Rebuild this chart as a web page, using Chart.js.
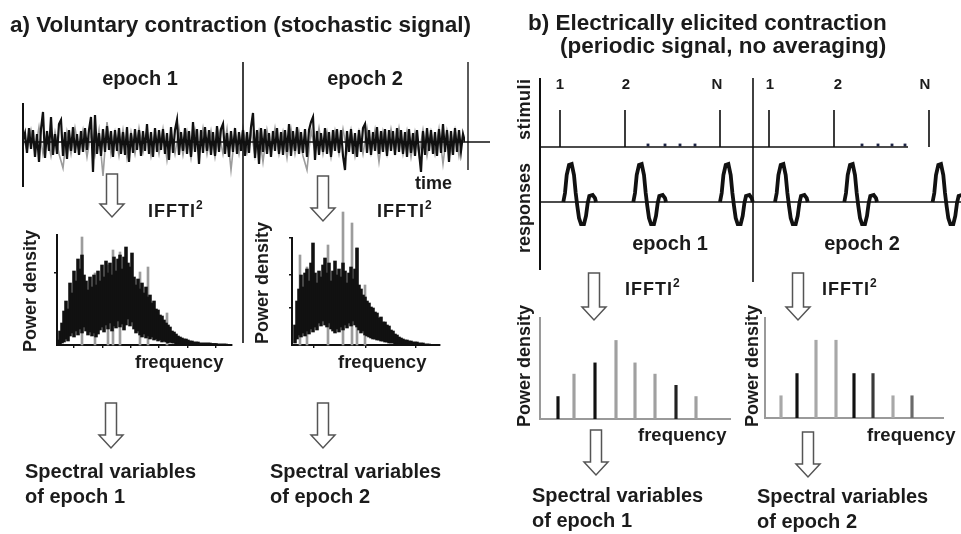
<!DOCTYPE html>
<html>
<head>
<meta charset="utf-8">
<title>Spectral analysis of voluntary and electrically elicited contractions</title>
<script src="https://cdn.jsdelivr.net/npm/chart.js@4.4.1/dist/chart.umd.min.js"></script>
<style>
  html, body { margin: 0; padding: 0; background: #fff; }
  #stage { position: relative; width: 961px; height: 534px; overflow: hidden; background: #fff; }
  .plot { position: absolute; left: 0; top: 0; }
  .plot canvas { display: block; }
  #overlay { position: absolute; left: 0; top: 0; pointer-events: none; }
  #overlay text { font-family: 'Liberation Sans', Arial, Helvetica, sans-serif; font-weight: bold; fill: #1b1b1b; }
</style>
</head>
<body>
<div id="stage">
  <div class="plot" id="w-signal"><canvas id="c-signal"></canvas></div>
  <div class="plot" id="w-spec1"><canvas id="c-spec1"></canvas></div>
  <div class="plot" id="w-spec2"><canvas id="c-spec2"></canvas></div>
  <div class="plot" id="w-train"><canvas id="c-train"></canvas></div>
  <div class="plot" id="w-lines1"><canvas id="c-lines1"></canvas></div>
  <div class="plot" id="w-lines2"><canvas id="c-lines2"></canvas></div>

  <svg id="overlay" width="961" height="534" xmlns="http://www.w3.org/2000/svg">
    <!-- panel frames / axes -->
    <g stroke="#111" fill="none">
      <line x1="23" y1="103" x2="23" y2="187" stroke-width="2"/>
      <line x1="243" y1="62" x2="243" y2="343" stroke-width="1.6"/>
      <line x1="468" y1="62" x2="468" y2="170" stroke-width="1.6" stroke="#333"/>
      <line x1="23" y1="142" x2="490" y2="142" stroke-width="1.4"/>
      <line x1="540" y1="78" x2="540" y2="270" stroke-width="2"/>
      <line x1="753" y1="78" x2="753" y2="282" stroke-width="1.6"/>
      <line x1="540" y1="147" x2="908" y2="147" stroke-width="1.6"/>
      <line x1="540" y1="202" x2="961" y2="202" stroke-width="1.6"/>
    </g>

    <!-- hollow process arrows -->
    <g id="arrows" fill="#fff" stroke="#555" stroke-width="1.5" stroke-linejoin="miter"></g>

    <!-- headings -->
    <text x="10" y="31.5" font-size="22.5">a) Voluntary contraction (stochastic signal)</text>
    <text x="528" y="30" font-size="22.5">b) Electrically elicited contraction</text>
    <text x="560" y="52.5" font-size="22.5">(periodic signal, no averaging)</text>

    <!-- panel a -->
    <text x="140" y="85" font-size="20" text-anchor="middle">epoch 1</text>
    <text x="365" y="85" font-size="20" text-anchor="middle">epoch 2</text>
    <text x="415" y="189" font-size="18">time</text>
    <text x="148" y="217" font-size="18" letter-spacing="1">IFFTI<tspan font-size="12" dy="-8">2</tspan></text>
    <text x="377" y="217" font-size="18" letter-spacing="1">IFFTI<tspan font-size="12" dy="-8">2</tspan></text>
    <text transform="translate(36,352) rotate(-90)" font-size="18">Power density</text>
    <text transform="translate(268,344) rotate(-90)" font-size="18">Power density</text>
    <text x="135" y="368" font-size="18.5">frequency</text>
    <text x="338" y="368" font-size="18.5">frequency</text>
    <text x="25" y="478" font-size="20">Spectral variables</text>
    <text x="25" y="503" font-size="20">of epoch 1</text>
    <text x="270" y="478" font-size="20">Spectral variables</text>
    <text x="270" y="503" font-size="20">of epoch 2</text>

    <!-- panel b -->
    <text transform="translate(530,140) rotate(-90)" font-size="18" letter-spacing="0.5">stimuli</text>
    <text transform="translate(530,253) rotate(-90)" font-size="18">responses</text>
    <g id="stimNames" font-size="15" text-anchor="middle"></g>
    <text x="670" y="250" font-size="20" text-anchor="middle">epoch 1</text>
    <text x="862" y="250" font-size="20" text-anchor="middle">epoch 2</text>
    <text x="625" y="295" font-size="18" letter-spacing="1">IFFTI<tspan font-size="12" dy="-8">2</tspan></text>
    <text x="822" y="295" font-size="18" letter-spacing="1">IFFTI<tspan font-size="12" dy="-8">2</tspan></text>
    <text transform="translate(530,427) rotate(-90)" font-size="18">Power density</text>
    <text transform="translate(758,427) rotate(-90)" font-size="18">Power density</text>
    <text x="638" y="441" font-size="18.5">frequency</text>
    <text x="867" y="441" font-size="18.5">frequency</text>
    <text x="532" y="502" font-size="20">Spectral variables</text>
    <text x="532" y="527" font-size="20">of epoch 1</text>
    <text x="757" y="503" font-size="20">Spectral variables</text>
    <text x="757" y="528" font-size="20">of epoch 2</text>
  </svg>
</div>

<script>
// ---------------------------------------------------------------
// Voluntary EMG (stochastic): two epochs of surface signal
// dense trace, one sample per step
const signalBlack = [
  2, 9, -11, 14, -7, 12, -15, 8, -20, 13,
  30, -16, 11, -9, 25, -13, 8, -12, 18, 22,
  -14, 10, -17, 12, -9, 15, -11, 8, -13, 11,
  -10, 14, -8, 12, 25, -30, 27, -12, 9, -14,
  13, -10, 16, -8, 11, -15, 12, -9, 14, -12,
  10, -13, 15, -20, 9, -11, 13, -8, 12, -14,
  11, -9, 18, -12, 10, -15, 14, -10, 12, -8,
  13, -12, 9, -18, 15, -11, 12, 22, -13, 10,
  -9, 14, -12, 11, -15, 20, -10, 13, -22, 12,
  -11, 15, -9, 12, -13, 10, -14, 16, -10, 13,
  18, -12, 9, -15, 11, -10, 14, -12, 10, -9,
  12, -14, 10, -11, 15, 29, -16, 12, -22, 14,
  -10, 13, -12, 9, -15, 11, -9, 14, -12, 10,
  -13, 12, -10, 18, -14, 11, -9, 15, -12, 10,
  -11, 13, -15, 12, 20, 25, -18, 11, -13, 9,
  -10, 14, -12, 10, -15, 12, -9, 13, -11, 12,
  -14, -28, 11, -10, 13, -12, 9, -15, 12, -10,
  14, 18, -11, 12, -13, 10, -9, 15, -12, 11,
  -10, 13, -14, 12, -9, 11, -13, 14, -10, 12,
  -12, 10, -15, 13, -11, 9, -14, 12, -10, -30,
  11, -13, 14, -9, 12, -12, 10, -14, 13, -11,
  18, -10, 12, -20, 11, -13, 14, -10, 12, -9,
  8, 0
];
// sparser companion trace (every second step) carrying the larger excursions
const signalGray = [
  5, -8, 12, -10, 15, -12, 8, -14, 10, -12,
  -26, 10, -12, 14, -9, 12, -15, 10, -13, 12,
  -34, 20, -12, 10, -14,
  12, -16, 10, -12, 14,
  -10, 12, -14, 9, -12, 13, -18, 10, -12, 14,
  -13, 10, -16, 12, -10, 14, -12, 11, -15, 10,
  -12, 13, -28, 10, -12, 14,
  -10, 12, -14, 10,
  -20, 12, -10, 14, -12, 10, -16, 13, -12, 10,
  -14, -28, 12, -10, 14, -12, 10, -15, 11, -12,
  13, -10, 12, -14, 10, -12, 14, -11, 12, -20,
  10, -12, 13, -10, 14, -12, 11, -15, 10, -13,
  12, -14, 10, -12, 13, -22, 11, -10, 12, -14, 8
];

// |FFT|^2 of epoch 1: per frequency bin, lower and upper extent of the raw periodogram
const spec1Upper = [
  5, 14, 22, 34, 44, 36, 62, 52, 74, 64,
  86, 76, 90, 70, 64, 55, 68, 58, 70, 60,
  74, 64, 80, 68, 84, 72, 82, 70, 88, 74,
  86, 90, 76, 88, 98, 82, 78, 92, 68, 60,
  66, 56, 62, 52, 58, 48, 50, 42, 44, 36,
  35, 30, 29, 25, 22, 20, 18, 14, 13, 11,
  9, 8, 7, 6, 6, 5, 4, 4, 3, 3,
  3, 2, 2, 2, 2, 2, 2, 1.5, 1.5, 1.5, 1, 1, 1, 1, 1
];
const spec1Lower = [
  0, 1, 2, 3, 6, 4, 9, 12, 8, 14,
  10, 16, 12, 18, 14, 10, 13, 9, 12, 8,
  11, 15, 18, 13, 20, 16, 22, 14, 19, 17,
  24, 18, 21, 15, 20, 26, 19, 23, 16, 12,
  14, 10, 8, 11, 7, 9, 6, 8, 5, 6,
  4, 5, 3, 4, 3, 2, 3, 2, 2, 1,
  1, 1, 1, 1, 1, 0.5, 0.5, 0.5, 0.5, 0.5,
  0, 0, 0, 0, 0, 0, 0, 0, 0, 0, 0, 0, 0, 0, 0
];
const spec1PeakBins = [12, 18.5, 25, 27.5, 31, 41, 45, 54.5];
const spec1PeakPower = [108, 72, 80, 95, 93, 73, 78, 32];

// |FFT|^2 of epoch 2
const spec2Upper = [
  20, 44, 56, 70, 58, 72, 76, 64, 82, 102,
  72, 62, 74, 68, 80, 87, 72, 82, 64, 74,
  84, 70, 76, 68, 82, 74, 62, 72, 78, 66,
  76, 97, 60, 56, 50, 48, 44, 42, 38, 37,
  33, 32, 27, 28, 23, 23, 20, 19, 15, 14,
  11, 10, 8, 7, 6, 5, 5, 4, 4, 3,
  3, 3, 2, 2, 2, 1, 1, 1
];
const spec2Lower = [
  2, 6, 10, 8, 12, 9, 14, 11, 16, 13,
  18, 15, 22, 19, 24, 20, 18, 22, 16, 14,
  12, 16, 13, 18, 15, 20, 17, 22, 19, 24,
  20, 18, 15, 12, 14, 10, 9, 8, 7, 6,
  6, 5, 5, 4, 4, 3, 3, 2, 2, 2,
  1, 1, 1, 1, 1, 1, 1, 1, 0, 0,
  0, 0, 0, 0, 0, 0, 0, 0
];
const spec2PeakBins = [2.5, 6, 16.5, 24, 28.5, 31, 35];
const spec2PeakPower = [90, 78, 100, 133, 122, 97, 60];

// Electrically elicited contraction: stimulus train and M-wave responses (time units)
const stimNames = ['1', '2', 'N', '1', '2', 'N'];
const stimTimes = [20, 85, 180, 229, 294, 389];
const stimBase = 55;
const stimTop = 92;
const trainGapTimes = [108, 125, 140, 155, 322, 338, 352, 365];
const responseOnsets = [23.3, 93.3, 180, 235, 304.3, 392.6];
const mwaveTime = [0, 1.7, 3.4, 5.7, 8.4, 10.7, 12.4, 14, 15.7, 17.7, 20.7, 22.7, 24.4, 26, 29.4, 31.7, 32.7];
const mwaveAmp  = [0, 9, 27, 37, 38, 27, 9, -4, -16, -22, -22, -14, -1, 6, 7, 4, 0];

// Line spectra of the periodic responses (harmonics of the stimulation rate)
const harmonics1 = [18, 34, 55, 76, 95, 115, 136, 156];
const power1 = [1, 2, 2.5, 3.5, 2.5, 2, 1.5, 1];
const harmonics2 = [16, 32, 51, 71, 89, 108, 128, 147];
const power2 = [1, 2, 3.5, 3.5, 2, 2, 1, 1];

// ---------------------------------------------------------------
// styling
const INK = '#111';
const GREY = '#9c9c9c';
const AXIS_GREY = '#9a9a9a';
const lineShades1 = [INK, '#a0a0a0', INK, '#a0a0a0', '#a0a0a0', '#a0a0a0', '#222', '#a0a0a0'];
const lineShades2 = ['#a8a8a8', INK, '#a8a8a8', '#a8a8a8', INK, '#3a3a3a', '#a8a8a8', '#6a6a6a'];

// Creates a chart whose plotting area lands exactly on the given page box.
function mount(id, box, pad, makeConfig) {
  const wrap = document.getElementById('w-' + id);
  const cv = document.getElementById('c-' + id);
  const build = (W, H) => {
    cv.width = W; cv.height = H;
    cv.style.width = W + 'px'; cv.style.height = H + 'px';
    const cfg = makeConfig();
    cfg.options = Object.assign({
      responsive: false, maintainAspectRatio: false, animation: false, events: [],
      devicePixelRatio: 1, layout: { padding: pad },
      plugins: { legend: { display: false }, tooltip: { enabled: false } }
    }, cfg.options);
    return new Chart(cv, cfg);
  };
  let W = Math.round(box.w + pad.left + pad.right);
  let H = Math.round(box.h + pad.top + pad.bottom);
  let chart = build(W, H);
  let a = chart.chartArea;
  const dw = box.w - (a.right - a.left), dh = box.h - (a.bottom - a.top);
  if (Math.abs(dw) > 0.5 || Math.abs(dh) > 0.5) {
    chart.destroy();
    W = Math.round(W + dw); H = Math.round(H + dh);
    chart = build(W, H);
    a = chart.chartArea;
  }
  wrap.style.left = (box.x - a.left) + 'px';
  wrap.style.top = (box.y - a.top) + 'px';
  return chart;
}

const noPad = { left: 0, right: 0, top: 0, bottom: 0 };

function fixedTicks(values) {
  return scale => { scale.ticks = values.map(v => ({ value: v })); };
}

// raw EMG trace
mount('signal', { x: 23, y: 100, w: 442, h: 86 }, noPad, () => ({
  type: 'line',
  data: {
    datasets: [
      { data: signalBlack.map((v, i) => ({ x: i, y: v })), borderColor: INK, borderWidth: 2.2,
        pointRadius: 0, tension: 0 },
      { data: signalGray.map((v, j) => ({ x: 2 * j, y: v })), borderColor: GREY, borderWidth: 1.6,
        pointRadius: 0, tension: 0 }
    ]
  },
  options: {
    scales: {
      x: { type: 'linear', display: false, min: 0, max: 221 },
      y: { type: 'linear', display: false, min: -44, max: 42 }
    }
  }
}));

// periodogram panels
function spectrumConfig(upper, lower, peakBins, peakPower, xr, ymax, xTicks, yTicks) {
  const axis = (min, max, ticks) => ({
    type: 'linear', min, max, offset: false,
    grid: { display: true, drawOnChartArea: false, drawTicks: true, tickLength: 3, color: INK, lineWidth: 1.4 },
    border: { display: true, color: INK, width: 2 },
    ticks: { display: false },
    afterBuildTicks: fixedTicks(ticks)
  });
  return () => ({
    type: 'bar',
    data: {
      datasets: [
        { data: upper.map((u, i) => ({ x: i, y: [lower[i], u] })), backgroundColor: INK,
          barThickness: 2.9, grouped: false, clip: false },
        { data: peakBins.map((b, k) => ({ x: b, y: peakPower[k] })), backgroundColor: GREY,
          barThickness: 2, grouped: false, clip: false }
      ]
    },
    options: {
      scales: { x: axis(xr[0], xr[1], xTicks), y: axis(0, ymax, yTicks) }
    }
  });
}

mount('spec1', { x: 57, y: 235, w: 175, h: 110 }, { left: 4, right: 4, top: 10, bottom: 4 },
  spectrumConfig(spec1Upper, spec1Lower, spec1PeakBins, spec1PeakPower,
    [-0.5, 87], 110, [15, 29.5, 43.5, 57.5, 72, 86], [72]));

mount('spec2', { x: 292, y: 238, w: 148, h: 107 }, { left: 4, right: 4, top: 35, bottom: 4 },
  spectrumConfig(spec2Upper, spec2Lower, spec2PeakBins, spec2PeakPower,
    [-1.5, 72.5], 107, [22.5, 48.5, 72.5], [37, 70, 107]));

// stimulus train and responses
const stimTrace = [];
stimTimes.forEach(t => {
  stimTrace.push({ x: t, y: stimBase }, { x: t, y: stimTop }, { x: t, y: null });
});
const responseTrace = [];
responseOnsets.forEach(t0 => {
  mwaveTime.forEach((dt, k) => responseTrace.push({ x: t0 + dt, y: mwaveAmp[k] }));
  responseTrace.push({ x: t0 + 34, y: null });
});

mount('train', { x: 540, y: 60, w: 421, h: 230 }, noPad, () => ({
  type: 'line',
  data: {
    datasets: [
      { data: responseTrace, borderColor: INK, borderWidth: 3.8, pointRadius: 0, spanGaps: false,
        tension: 0, borderJoinStyle: 'miter' },
      { data: stimTrace, borderColor: '#1a1a1a', borderWidth: 1.7, pointRadius: 0, spanGaps: false },
      { data: trainGapTimes.map(t => ({ x: t, y: 57 })), showLine: false, pointStyle: 'rect',
        pointRadius: 2, backgroundColor: '#1d2444', borderWidth: 0 }
    ]
  },
  options: {
    scales: {
      x: { type: 'linear', display: false, min: 0, max: 421 },
      y: { type: 'linear', display: false, min: -88, max: 142 }
    }
  }
}));

// line spectra
function lineSpectrumConfig(freqs, powers, shades, xmax) {
  const axis = (min, max) => ({
    type: 'linear', min, max, offset: false,
    grid: { display: false, drawTicks: false },
    border: { display: true, color: AXIS_GREY, width: 2 },
    ticks: { display: false }
  });
  return () => ({
    type: 'bar',
    data: {
      datasets: [
        { data: freqs.map((f, i) => ({ x: f, y: powers[i] })), backgroundColor: shades,
          barThickness: 2.5, grouped: false }
      ]
    },
    options: { scales: { x: axis(0, xmax), y: axis(0, 4.5) } }
  });
}

mount('lines1', { x: 540, y: 318, w: 190, h: 101 }, { left: 2, right: 2, top: 2, bottom: 2 },
  lineSpectrumConfig(harmonics1, power1, lineShades1, 190));
mount('lines2', { x: 765, y: 318, w: 178, h: 100 }, { left: 2, right: 2, top: 2, bottom: 2 },
  lineSpectrumConfig(harmonics2, power2, lineShades2, 178));

// stimulus numbers above the pulses
(function () {
  const g = document.getElementById('stimNames');
  const ns = 'http://www.w3.org/2000/svg';
  const nameX = [560, 626, 717, 770, 838, 925];
  stimNames.forEach((n, i) => {
    const t = document.createElementNS(ns, 'text');
    t.setAttribute('x', nameX[i]);
    t.setAttribute('y', 89);
    t.textContent = n;
    g.appendChild(t);
  });
})();

// hollow down arrows linking the processing steps
(function () {
  const g = document.getElementById('arrows');
  const ns = 'http://www.w3.org/2000/svg';
  const arrows = [
    [112, 174, 217], [323, 176, 221], [111, 403, 448], [323, 403, 448],
    [594, 273, 320], [798, 273, 320], [596, 430, 475], [808, 432, 477]
  ];
  const sw = 5.5, hw = 12, hh = 13;
  arrows.forEach(([cx, t, b]) => {
    const p = document.createElementNS(ns, 'path');
    p.setAttribute('d',
      `M${cx - sw},${t} L${cx + sw},${t} L${cx + sw},${b - hh} L${cx + hw},${b - hh} ` +
      `L${cx},${b} L${cx - hw},${b - hh} L${cx - sw},${b - hh} Z`);
    g.appendChild(p);
  });
})();
</script>
</body>
</html>
